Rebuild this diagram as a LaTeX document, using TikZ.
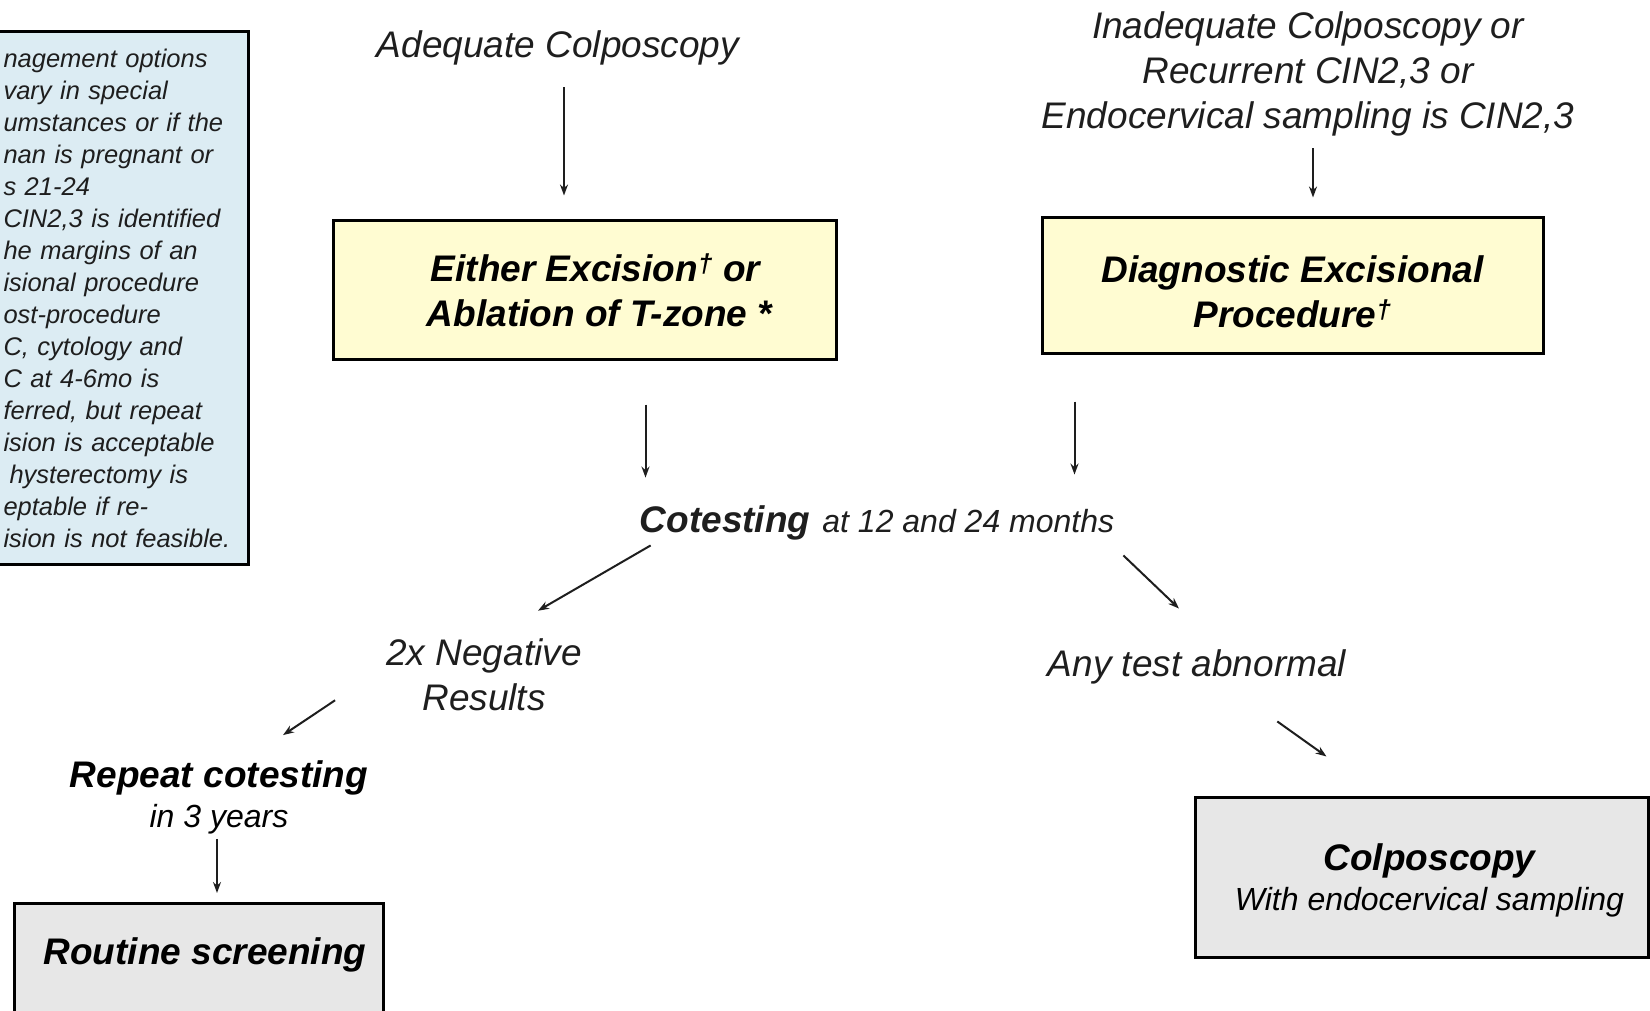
\documentclass[tikz,border=0pt]{standalone}
\usepackage{fontspec}
\setmainfont{Liberation Sans}
\usetikzlibrary{arrows.meta}
\definecolor{noteblue}{RGB}{220,236,243}
\definecolor{boxyellow}{RGB}{255,252,210}
\definecolor{boxgray}{RGB}{231,231,231}
\definecolor{ink}{RGB}{30,30,30}

\begin{document}
\begin{tikzpicture}[x=1pt,y=-1pt,
  lbl/.style={font=\fontsize{37}{45}\selectfont\itshape, text=ink, inner sep=0pt, align=center},
  ttl/.style={font=\fontsize{37}{40}\selectfont\bfseries\itshape, text=black, inner sep=0pt, align=center},
  yellowbox/.style={draw=black, line width=3pt, fill=boxyellow, inner sep=0pt, align=center,
    font=\fontsize{37}{45}\selectfont\bfseries\itshape},
  graybox/.style={draw=black, line width=3pt, fill=boxgray, inner sep=0pt, align=center},
  notebox/.style={draw=black, line width=3pt, fill=noteblue, align=left, text=ink,
    font=\fontsize{25.5}{32}\selectfont\itshape, inner xsep=6pt, inner ysep=0pt},
  arr/.style={draw=ink, line width=2pt, -{Stealth[length=11pt,width=8pt]}}]
\useasboundingbox (0,0) rectangle (1650,1011);

% side note (cut at the left edge)
\node[notebox, anchor=north west, minimum width=251, minimum height=533, text width=239]
  (note) at (-4,30) {nagement options\\ vary in special\\ umstances or if the\\
  nan is pregnant or\\ s 21-24\\ CIN2,3 is identified\\ he margins of an\\
  isional procedure\\ ost-procedure\\ C, cytology and\\ C at 4-6mo is\\
  ferred, but repeat\\ ision is acceptable\\ \hspace*{6pt}hysterectomy is\\
  eptable if re-\\ ision is not feasible.};

% entry texts
\node[lbl] (adequate) at (558,48) {Adequate Colposcopy};
\node[lbl] (inadequate) at (1308,74) {Inadequate Colposcopy or\\ Recurrent CIN2,3 or\\
  Endocervical sampling is CIN2,3};

% treatment boxes
\node[yellowbox, minimum width=503, minimum height=138] (excise) at (584.5,290)
  {\hspace*{22pt}Either Excision\textsuperscript{†} or\\ \hspace*{30pt}Ablation of T-zone *};
\node[yellowbox, minimum width=501, minimum height=135] (diag) at (1292.5,285.5)
  {\rule{0pt}{40pt}Diagnostic Excisional\\ Procedure\textsuperscript{†}};

% follow-up
\node[lbl] (cotest) at (877,523)
  {\textbf{Cotesting}\hspace{12pt}{\fontsize{32}{38}\selectfont at 12 and 24 months}};
\node[lbl] (neg) at (484,675) {2x Negative\\ Results};
\node[lbl] (abn) at (1197,667) {Any test abnormal};
\node[ttl] (repeat) at (219,797) {Repeat cotesting\\
  {\fontsize{32}{38}\selectfont\mdseries in 3 years}};

% end boxes
\node[graybox, anchor=north west, minimum width=369, text height=61pt, text depth=79pt,
  font=\fontsize{37}{45}\selectfont\bfseries\itshape] (routine) at (13,902)
  {\hspace*{12pt}Routine screening};
\node[graybox, minimum width=453, minimum height=160, font=\fontsize{37}{40}\selectfont]
  (colpo) at (1421.5,877)
  {\rule{0pt}{34pt}\hspace*{16pt}{\bfseries\itshape Colposcopy}\\
  \hspace*{16pt}{\fontsize{32}{38}\selectfont\itshape With endocervical sampling}};

% connectors
\draw[arr, shorten <=22pt, shorten >=24pt] ([shift={(6,0)}]adequate.south)
  -- ([shift={(6,0)}]adequate.south |- excise.north);
\draw[arr, shorten <=12pt, shorten >=19pt] ([shift={(5,0)}]inadequate.south)
  -- ([shift={(5,0)}]inadequate.south |- diag.north);
\draw[arr, shorten <=44pt, shorten >=28pt] ([shift={(61,0)}]excise.south)
  -- ([shift={(61,0)}]excise.south |- cotest.north);
\draw[arr, shorten <=47pt, shorten >=31pt] ([shift={(-218,0)}]diag.south)
  -- ([shift={(-218,0)}]diag.south |- cotest.north);
\draw[arr] ([shift={(11,5)}]cotest.south west) -- ([shift={(54,-28)}]neg.north);
\draw[arr] ([shift={(9,15)}]cotest.south east) -- ([shift={(-18,-41)}]abn.north);
\draw[arr] ([shift={(-51,-11)}]neg.south west) -- ([shift={(64,-25)}]repeat.north);
\draw[arr] ([shift={(-69,37)}]abn.south east) -- ([shift={(-95,-39)}]colpo.north);
\draw[arr, shorten <=5pt, shorten >=9pt] ([shift={(-2,0)}]repeat.south)
  -- ([shift={(-2,0)}]repeat.south |- routine.north);
\end{tikzpicture}
\end{document}
